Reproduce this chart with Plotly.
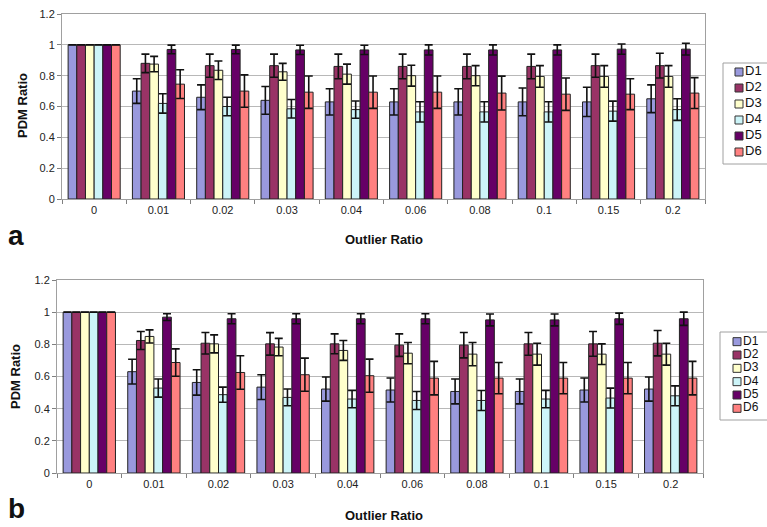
import plotly.graph_objects as go

categories = ["0", "0.01", "0.02", "0.03", "0.04", "0.06", "0.08", "0.1", "0.15", "0.2"]
series_names = ["D1", "D2", "D3", "D4", "D5", "D6"]

# Panel a
a_D1 = [1, 0.70, 0.66, 0.64, 0.63, 0.63, 0.63, 0.63, 0.63, 0.65]
a_D1_err = [0, 0.08, 0.08, 0.09, 0.085, 0.085, 0.085, 0.09, 0.095, 0.09]
a_D2 = [1, 0.88, 0.865, 0.865, 0.86, 0.86, 0.86, 0.86, 0.865, 0.865]
a_D2_err = [0, 0.06, 0.075, 0.075, 0.08, 0.08, 0.08, 0.08, 0.075, 0.08]
a_D3 = [1, 0.875, 0.835, 0.825, 0.81, 0.80, 0.80, 0.795, 0.795, 0.795]
a_D3_err = [0, 0.05, 0.06, 0.055, 0.065, 0.068, 0.065, 0.07, 0.07, 0.07]
a_D4 = [1, 0.62, 0.60, 0.585, 0.58, 0.565, 0.565, 0.565, 0.57, 0.58]
a_D4_err = [0, 0.063, 0.06, 0.06, 0.056, 0.066, 0.066, 0.066, 0.065, 0.07]
a_D5 = [1, 0.97, 0.97, 0.967, 0.967, 0.967, 0.967, 0.967, 0.972, 0.972]
a_D5_err = [0, 0.028, 0.028, 0.03, 0.03, 0.033, 0.033, 0.033, 0.033, 0.038]
a_D6 = [1, 0.745, 0.70, 0.693, 0.693, 0.693, 0.687, 0.68, 0.68, 0.687]
a_D6_err = [0, 0.093, 0.105, 0.105, 0.105, 0.105, 0.11, 0.105, 0.1, 0.1]

# Panel b
b_D1 = [1, 0.63, 0.563, 0.534, 0.522, 0.516, 0.507, 0.507, 0.516, 0.522]
b_D1_err = [0, 0.077, 0.079, 0.077, 0.075, 0.075, 0.077, 0.077, 0.075, 0.075]
b_D2 = [1, 0.824, 0.807, 0.803, 0.803, 0.795, 0.795, 0.803, 0.803, 0.807]
b_D2_err = [0, 0.056, 0.067, 0.07, 0.062, 0.07, 0.079, 0.071, 0.077, 0.079]
b_D3 = [1, 0.849, 0.803, 0.783, 0.762, 0.745, 0.739, 0.739, 0.739, 0.739]
b_D3_err = [0, 0.041, 0.056, 0.054, 0.062, 0.066, 0.072, 0.068, 0.064, 0.068]
b_D4 = [1, 0.528, 0.487, 0.47, 0.46, 0.451, 0.451, 0.46, 0.466, 0.48]
b_D4_err = [0, 0.056, 0.047, 0.052, 0.054, 0.056, 0.062, 0.054, 0.062, 0.062]
b_D5 = [1, 0.969, 0.959, 0.959, 0.959, 0.959, 0.952, 0.952, 0.959, 0.959]
b_D5_err = [0, 0.021, 0.031, 0.031, 0.031, 0.031, 0.037, 0.037, 0.035, 0.041]
b_D6 = [1, 0.687, 0.625, 0.611, 0.605, 0.59, 0.59, 0.59, 0.59, 0.59]
b_D6_err = [0, 0.085, 0.104, 0.103, 0.103, 0.104, 0.097, 0.097, 0.097, 0.104]

colors = ["#9999dd", "#993366", "#ffffcc", "#ccf4f8", "#660066", "#ff8080"]

panel_a = [(a_D1, a_D1_err), (a_D2, a_D2_err), (a_D3, a_D3_err),
           (a_D4, a_D4_err), (a_D5, a_D5_err), (a_D6, a_D6_err)]
panel_b = [(b_D1, b_D1_err), (b_D2, b_D2_err), (b_D3, b_D3_err),
           (b_D4, b_D4_err), (b_D5, b_D5_err), (b_D6, b_D6_err)]

FONT = "Liberation Sans, Arial, sans-serif"
W, H = 767, 527


def fx(p):
    return p / W


def fy(p):
    return 1 - p / H


fig = go.Figure()

for panel, xa, ya in [(panel_a, "x", "y"), (panel_b, "x2", "y2")]:
    for name, (vals, errs), col in zip(series_names, panel, colors):
        fig.add_trace(go.Bar(
            x=categories, y=vals, name=name, xaxis=xa, yaxis=ya, showlegend=False,
            marker=dict(color=col, line=dict(color="#222222", width=1)),
            error_y=dict(type="data", array=errs, visible=True,
                         color="#111111", thickness=1.6, width=4),
        ))

# Legends (marker+text traces on hidden axes)
for xa, ya, fs in [("x3", "y3", 13), ("x4", "y4", 12)]:
    fig.add_trace(go.Scatter(
        x=[0] * len(series_names), y=list(range(len(series_names))),
        mode="markers+text", text=series_names, textposition="middle right",
        textfont=dict(family=FONT, size=fs, color="#111111"),
        marker=dict(symbol="square", size=8, color=colors,
                    line=dict(color="#333333", width=1)),
        xaxis=xa, yaxis=ya, showlegend=False, hoverinfo="skip", cliponaxis=False,
    ))

axis_common = dict(showline=True, linecolor="#a0a0a0", linewidth=1, mirror=True,
                   ticks="outside", ticklen=4, tickcolor="#808080",
                   tickfont=dict(family=FONT, size=11, color="#222222"))
hidden = dict(visible=False, fixedrange=True)

fig.update_layout(
    width=W, height=H,
    margin=dict(l=0, r=0, t=0, b=0, autoexpand=False),
    paper_bgcolor="white", plot_bgcolor="white",
    barmode="group", bargap=0.19, bargroupgap=0,
    font=dict(family=FONT, color="#111111"),
    showlegend=False,
    xaxis=dict(domain=[fx(62), fx(705)], anchor="y", type="category",
               tickson="boundaries", ticklabelstandoff=1, **axis_common),
    yaxis=dict(domain=[fy(199), fy(14)], anchor="x", range=[0, 1.2], dtick=0.2,
               showgrid=True, gridcolor="#b8b8b8", gridwidth=1, **axis_common),
    xaxis2=dict(domain=[fx(57), fx(703)], anchor="y2", type="category",
                tickson="boundaries", ticklabelstandoff=1, **axis_common),
    yaxis2=dict(domain=[fy(473), fy(280)], anchor="x2", range=[0, 1.2], dtick=0.2,
                showgrid=True, gridcolor="#b8b8b8", gridwidth=1, **axis_common),
    xaxis3=dict(domain=[fx(723), fx(767)], range=[-16, 28], anchor="y3", **hidden),
    yaxis3=dict(domain=[fy(160), fy(64)], range=[5.5, -0.5], anchor="x3", **hidden),
    xaxis4=dict(domain=[fx(720), fx(767)], range=[-17, 30], anchor="y4", **hidden),
    yaxis4=dict(domain=[fy(415), fy(335)], range=[5.5, -0.5], anchor="x4", **hidden),
)

shapes = [
    dict(type="rect", xref="paper", yref="paper", x0=fx(723), x1=1.02,
         y0=fy(164), y1=fy(63), line=dict(color="#a0a0a0", width=1), layer="below"),
    dict(type="rect", xref="paper", yref="paper", x0=fx(720), x1=1.02,
         y0=fy(420), y1=fy(332), line=dict(color="#a0a0a0", width=1), layer="below"),
]
fig.update_layout(shapes=shapes)

ann_font = dict(family=FONT, size=13, color="#111111")
annotations = [
    dict(text="<b>PDM Ratio</b>", x=fx(22), y=fy(106), textangle=-90, font=ann_font),
    dict(text="<b>PDM Ratio</b>", x=fx(15), y=fy(377), textangle=-90, font=ann_font),
    dict(text="<b>Outlier Ratio</b>", x=fx(384), y=fy(240), font=ann_font),
    dict(text="<b>Outlier Ratio</b>", x=fx(384), y=fy(515), font=ann_font),
    dict(text="<b>a</b>", x=fx(16), y=fy(236), font=dict(family=FONT, size=28, color="#111111")),
    dict(text="<b>b</b>", x=fx(16), y=fy(508), font=dict(family=FONT, size=28, color="#111111")),
]
for a in annotations:
    a.update(xref="paper", yref="paper", showarrow=False, xanchor="center", yanchor="middle")
fig.update_layout(annotations=annotations)

fig.write_html(
    "out.html",
    config={"displayModeBar": False},
    post_script="document.body.style.margin='0';document.body.style.overflow='hidden';",
)
